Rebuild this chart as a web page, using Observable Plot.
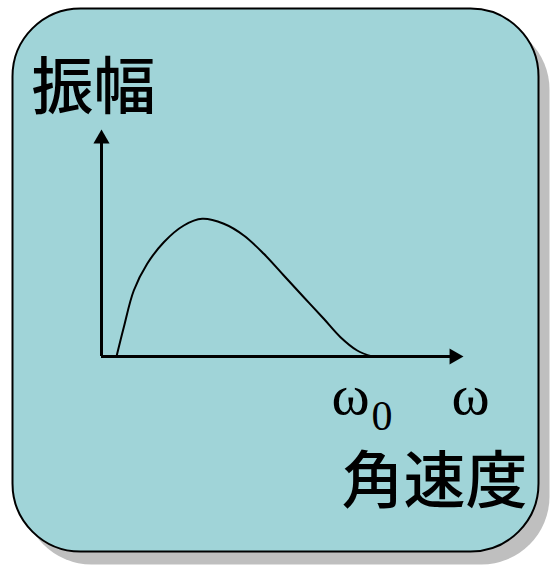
<!DOCTYPE html>
<html>
<head>
<meta charset="utf-8">
<script src="https://cdn.jsdelivr.net/npm/d3@7"></script>
<script src="https://cdn.jsdelivr.net/npm/@observablehq/plot@0.6"></script>
<style>
  html, body { margin: 0; padding: 0; background: #ffffff; }
</style>
</head>
<body>
<div id="chart"></div>
<script>
// Curve (x = angular velocity, y = amplitude, arbitrary units)
const omega = [15, 22.3, 32.3, 45.7, 62.3, 82.3, 100.7, 122.3, 142.3, 162.3, 182.3, 202.3, 222.3, 239, 255.7, 270.7];
const amplitude = [0, 29.3, 66, 92.7, 114.3, 131, 137.7, 132.7, 121, 102.7, 81, 59.3, 37.7, 19.3, 6, 0];
const yLabel = ["振幅"];
const xLabel = ["角速度"];
const omegaLabels = ["ω", "ω"];
const subscript = ["0"];

const xMax = 362, yMax = 227;
const curve = omega.map((w, i) => ({w, a: amplitude[i]}));

const bg = "#a0d4d8";
const serif = "'Liberation Serif', 'Times New Roman', serif";
const cjk = "'Noto Sans CJK JP', 'Noto Sans CJK SC', sans-serif";

const chart = Plot.plot({
  width: 553,
  height: 568,
  marginLeft: 12,
  marginTop: 8,
  marginRight: 15,
  marginBottom: 17,
  x: {domain: [0, xMax], range: [101, 463], axis: null},
  y: {domain: [0, yMax], range: [356, 129], axis: null},
  marks: [
    Plot.frame({rx: 68, fill: "#bfbfbf", stroke: "none", dx: 11, dy: 13}),
    Plot.frame({rx: 68, fill: bg, stroke: "black", strokeWidth: 2}),
    // axes
    Plot.ruleY([0], {x1: 0, x2: xMax - 8, stroke: "black", strokeWidth: 3}),
    Plot.ruleX([0], {y1: 0, y2: yMax - 8, stroke: "black", strokeWidth: 3}),
    Plot.dot([0], {x: xMax, y: 0, symbol: "triangle", r: 6, fill: "black", stroke: "none", rotate: 90, dx: -9.3}),
    Plot.dot([0], {x: 0, y: yMax, symbol: "triangle", r: 6, fill: "black", stroke: "none", dy: 9.3}),
    // curve
    Plot.line(curve, {x: "w", y: "a", curve: "catmull-rom", stroke: "black", strokeWidth: 2}),
    // labels
    Plot.text(yLabel, {x: -70, y: 248, text: d => d, textAnchor: "start", lineAnchor: "bottom", fontSize: 62, fontWeight: 500, fontFamily: cjk, fill: "black"}),
    Plot.text(xLabel, {x: 240, y: -146, text: d => d, textAnchor: "start", lineAnchor: "bottom", fontSize: 62, fontWeight: 500, fontFamily: cjk, fill: "black"}),
    Plot.text([omegaLabels[0]], {x: 230, y: -57, text: d => d, textAnchor: "start", lineAnchor: "bottom", fontSize: 58, fontFamily: serif, fill: "black"}),
    Plot.text(subscript, {x: 270, y: -73, text: d => d, textAnchor: "start", lineAnchor: "bottom", fontSize: 42, fontFamily: serif, fill: "black"}),
    Plot.text([omegaLabels[1]], {x: 350, y: -57, text: d => d, textAnchor: "start", lineAnchor: "bottom", fontSize: 58, fontFamily: serif, fill: "black"})
  ]
});
document.getElementById("chart").appendChild(chart);
</script>
</body>
</html>
